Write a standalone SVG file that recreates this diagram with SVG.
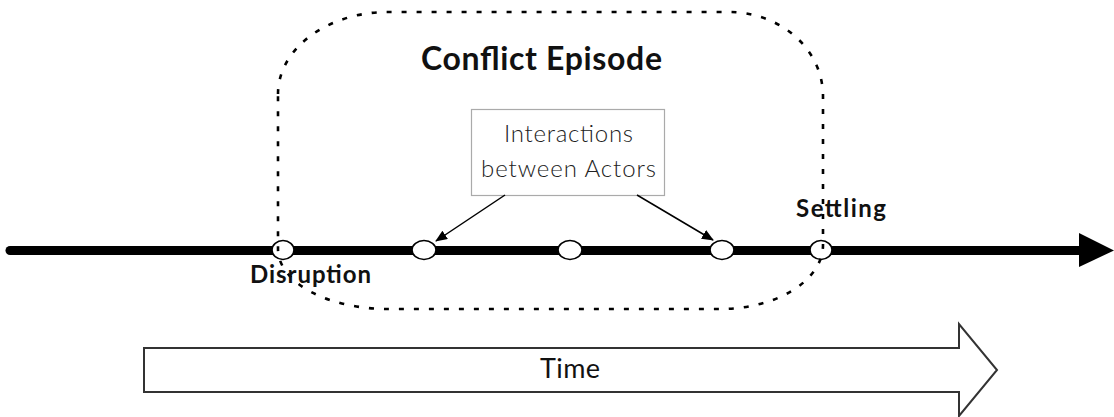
<svg xmlns="http://www.w3.org/2000/svg" width="1114" height="417" viewBox="0 0 1114 417">
<style>
.lbl{font-family:Lato,"Liberation Sans",sans-serif;fill:#111}
.bold{font-weight:bold}
.light{font-weight:300;fill:#222}
.ev{fill:#fff;stroke:#000;stroke-width:1.6}
</style>
<defs>
<marker id="ah" viewBox="0 0 12 10" refX="11" refY="5" markerWidth="12" markerHeight="10" markerUnits="userSpaceOnUse" orient="auto">
<path d="M0,0 L12,5 L0,10 Z" fill="#000"/>
</marker>
</defs>
<rect width="1114" height="417" fill="#fff"/>
<g id="timeline">
<line x1="10" y1="250.5" x2="1082" y2="250.5" stroke="#000" stroke-width="9" stroke-linecap="round"/>
<polygon points="1079,233 1114,250.5 1079,267" fill="#000"/>
</g>
<g id="events">
<ellipse id="disruption-pt" class="ev" cx="283" cy="250" rx="11" ry="9.5"/>
<ellipse id="event1" class="ev" cx="424" cy="250" rx="12" ry="9.5"/>
<ellipse id="event2" class="ev" cx="570" cy="250" rx="12" ry="9.5"/>
<ellipse id="event3" class="ev" cx="722" cy="250" rx="12" ry="9.5"/>
<ellipse id="settling-pt" class="ev" cx="821" cy="250" rx="11" ry="9.5"/>
</g>
<g id="episode">
<path d="M278,94 A110,82 0 0 1 388,12 L730,12 A94,84 0 0 1 823,96 L823,245 A103,64 0 0 1 720,309 L388,309 A110,60 0 0 1 278,249 Z" fill="none" stroke="#000" stroke-width="2.6" stroke-dasharray="5 10"/>
<text class="lbl bold" x="541.5" y="70" font-size="32" text-anchor="middle" textLength="241" lengthAdjust="spacing">Conflict Episode</text>
</g>
<g id="interactions">
<rect x="471.5" y="109.5" width="193" height="86" fill="#fff" stroke="#aaa" stroke-width="1.2"/>
<text class="lbl light" x="568.5" y="142" font-size="24" text-anchor="middle" textLength="129" lengthAdjust="spacing">Interactions</text>
<text class="lbl light" x="568.5" y="177" font-size="24" text-anchor="middle" textLength="175" lengthAdjust="spacing">between Actors</text>
</g>
<g id="labels">
<text class="lbl bold" x="310.5" y="283" font-size="24" text-anchor="middle" textLength="121" lengthAdjust="spacing">Disruption</text>
<text class="lbl bold" x="841" y="217" font-size="24" text-anchor="middle" textLength="90" lengthAdjust="spacing">Settling</text>
</g>
<g id="connectors">
<line x1="505" y1="195" x2="436" y2="241" stroke="#000" stroke-width="1.5" marker-end="url(#ah)"/>
<line x1="637" y1="195" x2="713" y2="240" stroke="#000" stroke-width="1.5" marker-end="url(#ah)"/>
</g>
<g id="time">
<polygon points="144,348 959,348 959,324 997,370 959,416 959,392 144,392" fill="#fff" stroke="#333" stroke-width="2"/>
<text class="lbl" x="570" y="378" font-size="27" text-anchor="middle" fill="#222" textLength="60" lengthAdjust="spacing">Time</text>
</g>
</svg>
